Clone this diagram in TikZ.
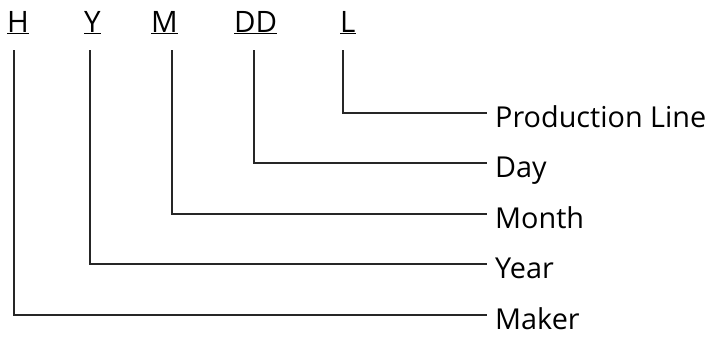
\documentclass[tikz,border=0pt]{standalone}
\usepackage{fontspec}
\setmainfont{Open Sans}
\begin{document}
\begin{tikzpicture}[x=1pt,y=-1pt,
  code/.style={inner sep=0pt,anchor=base west,font=\fontsize{29.5}{31}\selectfont},
  field/.style={inner sep=0pt,anchor=base west,font=\fontsize{28.8}{30}\selectfont},
  lead/.style={line width=1.4pt,draw=black!85}]
  \useasboundingbox (0,0) rectangle (707,338);
  % code letters
  \node[code] (h)  at (7,32)   {\underline{H}};
  \node[code] (y)  at (84,32)  {\underline{Y}};
  \node[code] (m)  at (151,32) {\underline{M}};
  \node[code] (dd) at (234,32) {\underline{DD}};
  \node[code] (l)  at (340,32) {\underline{L}};
  % field names
  \node[field] (line)  at (495,127.5) {Production Line};
  \node[field] (day)   at (495,177.5) {Day};
  \node[field] (month) at (495,228.5) {Month};
  \node[field] (year)  at (495,278.5) {Year};
  \node[field] (maker) at (495,329.5) {Maker};
  % tops of the leader lines
  \coordinate (hT)  at (14,50);
  \coordinate (yT)  at (90,50);
  \coordinate (mT)  at (172,50);
  \coordinate (ddT) at (254,50);
  \coordinate (lT)  at (343,50);
  % leader lines
  \draw[lead] (lT)  |- ([shift={(-8,-14.5)}]line.base west);
  \draw[lead] (ddT) |- ([shift={(-8,-14.5)}]day.base west);
  \draw[lead] (mT)  |- ([shift={(-8,-14.5)}]month.base west);
  \draw[lead] (yT)  |- ([shift={(-8,-14.5)}]year.base west);
  \draw[lead] (hT)  |- ([shift={(-8,-14.5)}]maker.base west);
\end{tikzpicture}
\end{document}
